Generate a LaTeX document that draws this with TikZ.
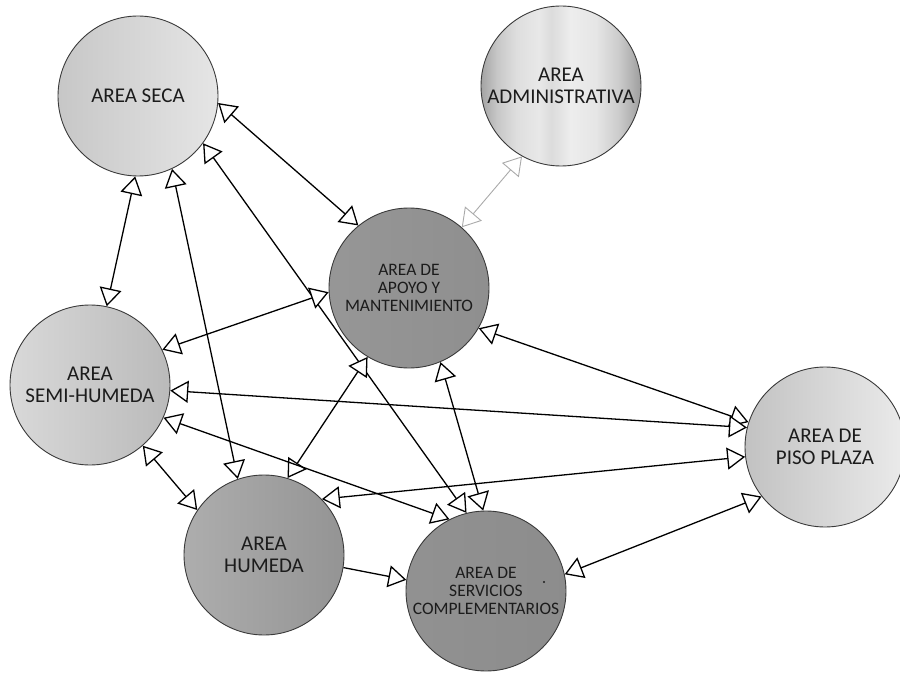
\documentclass[tikz,border=0pt]{standalone}
\usepackage{fontspec}
\setmainfont{Carlito}
\usetikzlibrary{arrows.meta}

\definecolor{ink}{HTML}{1C1C1C}
\definecolor{rim}{HTML}{3A3A3A}
\definecolor{faint}{HTML}{AAAAAA}

% brushed-metal look for the administrative zone
\pgfdeclarehorizontalshading{metal}{100bp}{%
  color(0bp)=(black!36); color(25bp)=(black!36);
  color(30bp)=(black!22); color(36bp)=(black!13);
  color(43bp)=(black!9); color(47bp)=(black!14);
  color(53bp)=(black!7); color(61bp)=(black!10);
  color(68bp)=(black!20); color(75bp)=(black!38);
  color(100bp)=(black!38)}

\begin{document}
\begin{tikzpicture}[x=1pt,y=-1pt,
  area/.style={circle, minimum size=160pt, inner sep=0pt, draw=rim,
    line width=0.9pt, text=ink, align=center,
    font=\fontsize{21}{22}\selectfont},
  areasmall/.style={area, font=\fontsize{17.5}{18.3}\selectfont},
  link/.style={draw=black, line width=1.3pt, line join=miter,
    >={Triangle[length=18pt,width=22pt,fill=white]}},
  softlink/.style={link, draw=faint, line width=0.9pt},
]
\useasboundingbox (0,0) rectangle (900,674);

% zones
\node[area, left color=black!22, right color=black!10] (seca) at (138,96) {AREA SECA};
\node[area, shading=metal] (admin) at (561,86) {AREA\\ADMINISTRATIVA};
\node[areasmall, left color=black!41, right color=black!44] (apoyo) at (409,288) {AREA DE\\APOYO Y\\MANTENIMIENTO};
\node[area, left color=black!15, right color=black!27] (semi) at (90,385) {AREA\\SEMI-HUMEDA};
\node[area, left color=black!32, right color=black!42] (humeda) at (264,555) {AREA\\HUMEDA};
\node[areasmall, left color=black!43, right color=black!45] (serv) at (486,591) {AREA DE\\SERVICIOS\\COMPLEMENTARIOS};
\node[area, left color=black!24, right color=black!8] (piso) at (825,447) {AREA DE\\PISO PLAZA};
\fill[ink] (544,582) circle (1.1pt);

% relations
\draw[softlink, <->] (admin.241) -- (apoyo.49);
\draw[link, <->] (seca.-5) -- (apoyo.129);
\draw[link, <->] (seca.-36) -- (serv.104);
\draw[link, <->] (seca.-65) -- (humeda.109);
\draw[link, <->] (seca.-92) -- (semi.78);
\draw[link, <->] (apoyo.-177) -- (semi.26);
\draw[link, <->] (apoyo.-121) -- (humeda.73);
\draw[link, <->] (apoyo.-67) -- (serv.92);
\draw[link, <->] (apoyo.-30) -- (piso.162);
\draw[link, <->] (semi.-4) -- (piso.166);
\draw[link, <->] (semi.-24) -- (serv.117);
\draw[link, <->] (semi.-49) -- (humeda.146);
\draw[link, <->] (humeda.44) -- (piso.-173);
\draw[link, ->] (humeda.-9) -- (serv.172);
\draw[link, <->] (serv.12) -- (piso.-142);
\end{tikzpicture}
\end{document}
